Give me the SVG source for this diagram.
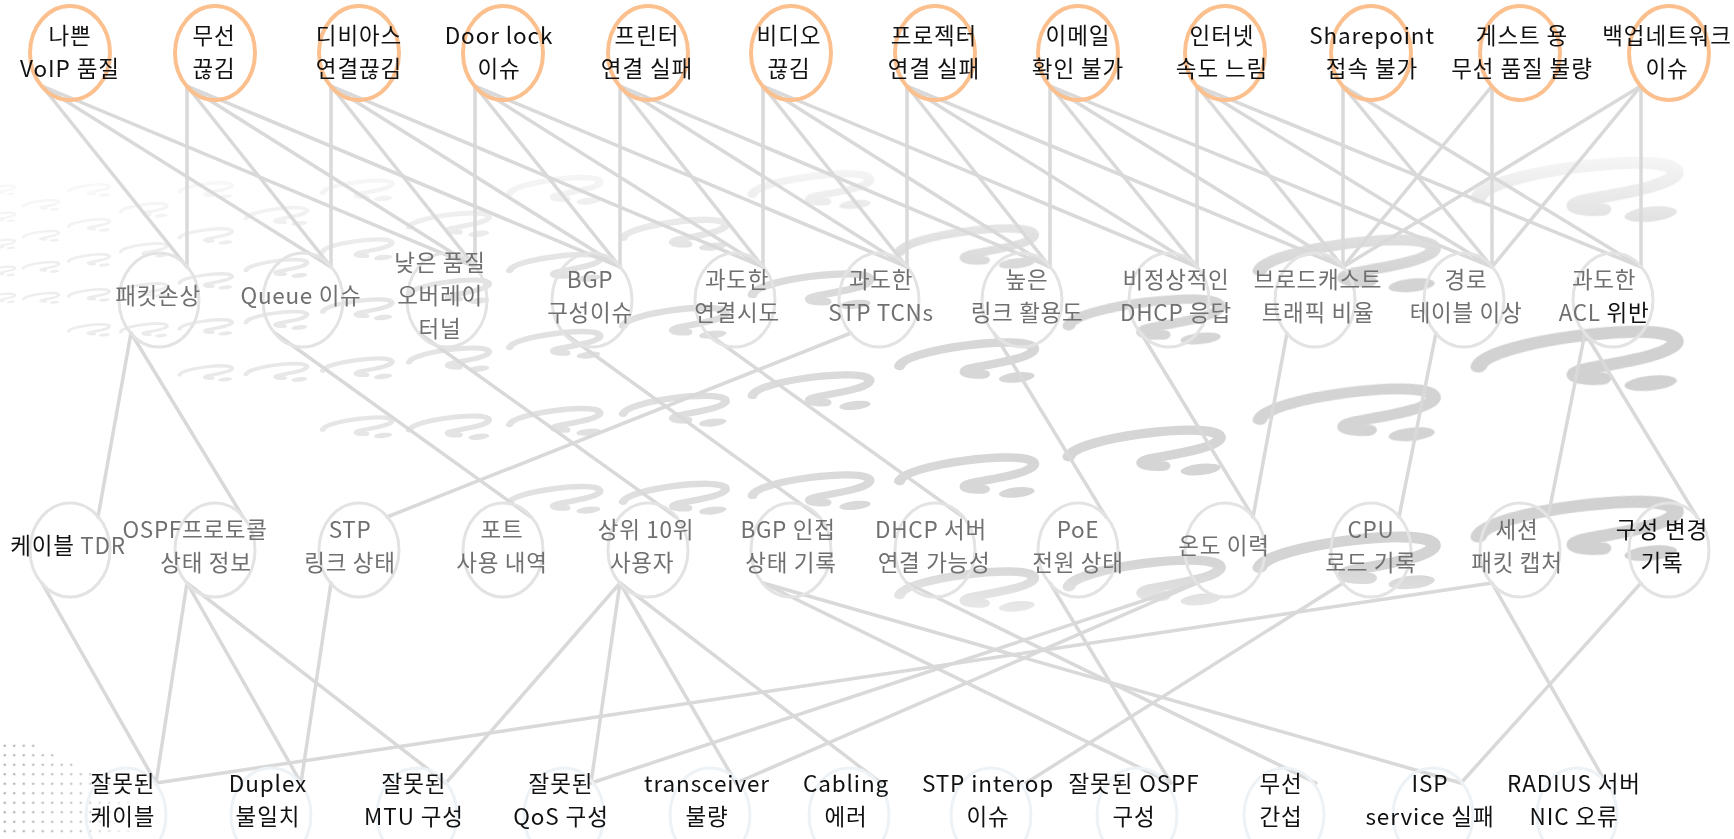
<svg xmlns="http://www.w3.org/2000/svg" width="1734" height="839" viewBox="0 0 1734 839">
<defs>
<style>
.t{font-family:"Noto Sans CJK KR","Noto Sans",sans-serif;font-size:22.5px;letter-spacing:0.9px;text-anchor:middle;fill:#111}
.g{fill:#707070;letter-spacing:0.7px}
.k{fill:#111}
.c1{fill:none;stroke:#FBC08E;stroke-width:4}
.c2{fill:none;stroke:#e3e3e3;stroke-width:3}
.c3{fill:none;stroke:#edf2f6;stroke-width:3}
.e line{stroke:#d9d9d9;stroke-width:3.5;stroke-linecap:round}
</style>
<g id="q" transform="scale(1,0.72)">
<path d="M-110 -5C-100 -40 90 -45 100 -15C108 8 30 12 5 15C-20 18 -10 30 20 32" fill="none" stroke="#d0d0d0" stroke-width="18" stroke-linecap="round"/>
<ellipse cx="70" cy="46" rx="28" ry="11" fill="#d0d0d0"/>
</g>
<linearGradient id="fh" x1="0" x2="1734" y1="0" y2="0" gradientUnits="userSpaceOnUse">
<stop offset="0" stop-color="#fff" stop-opacity="0.35"/><stop offset="0.55" stop-color="#fff" stop-opacity="0.85"/><stop offset="1" stop-color="#fff" stop-opacity="1"/>
</linearGradient>
<mask id="mh"><rect x="0" y="0" width="1734" height="839" fill="url(#fh)"/></mask>
<linearGradient id="fv" x1="0" x2="0" y1="0" y2="839" gradientUnits="userSpaceOnUse">
<stop offset="0.15" stop-color="#fff" stop-opacity="1"/><stop offset="0.33" stop-color="#fff" stop-opacity="0"/><stop offset="0.67" stop-color="#fff" stop-opacity="0"/><stop offset="0.8" stop-color="#fff" stop-opacity="1"/>
</linearGradient>
<pattern id="dots" width="9.5" height="9.5" patternUnits="userSpaceOnUse"><circle cx="4.75" cy="4.75" r="1.3" fill="#adadad"/></pattern>
<linearGradient id="fd" x1="0" x2="150" y1="0" y2="0" gradientUnits="userSpaceOnUse"><stop offset="0" stop-color="#fff"/><stop offset="0.5" stop-color="#fff" stop-opacity="0.7"/><stop offset="1" stop-color="#fff" stop-opacity="0"/></linearGradient>
<mask id="md"><polygon points="0,740 25,740 148,800 148,839 0,839" fill="url(#fd)"/></mask>
</defs>
<rect width="1734" height="839" fill="#fff"/>
<g id="background" mask="url(#mh)">
<use href="#q" transform="translate(0,190) rotate(-6) scale(0.15)"/>
<use href="#q" transform="translate(90,190) rotate(-6) scale(0.195)"/>
<use href="#q" transform="translate(207,190) rotate(-6) scale(0.25)"/>
<use href="#q" transform="translate(359,190) rotate(-6) scale(0.33)"/>
<use href="#q" transform="translate(557,190) rotate(-6) scale(0.43)"/>
<use href="#q" transform="translate(814,190) rotate(-6) scale(0.56)"/>
<use href="#q" transform="translate(1582,190) rotate(-6) scale(0.94)"/>
<use href="#q" transform="translate(42,205) rotate(-6) scale(0.17)"/>
<use href="#q" transform="translate(145,210) rotate(-6) scale(0.22)"/>
<use href="#q" transform="translate(278,216) rotate(-6) scale(0.29)"/>
<use href="#q" transform="translate(451,224) rotate(-6) scale(0.38)"/>
<use href="#q" transform="translate(677,234) rotate(-6) scale(0.49)"/>
<use href="#q" transform="translate(970,247) rotate(-6) scale(0.64)"/>
<use href="#q" transform="translate(1351,264) rotate(-6) scale(0.83)"/>
<use href="#q" transform="translate(0,217) rotate(-6) scale(0.15)"/>
<use href="#q" transform="translate(90,225) rotate(-6) scale(0.195)"/>
<use href="#q" transform="translate(207,236) rotate(-6) scale(0.25)"/>
<use href="#q" transform="translate(359,249) rotate(-6) scale(0.33)"/>
<use href="#q" transform="translate(557,267) rotate(-6) scale(0.43)"/>
<use href="#q" transform="translate(814,290) rotate(-6) scale(0.56)"/>
<use href="#q" transform="translate(1148,320) rotate(-6) scale(0.72)"/>
<use href="#q" transform="translate(1582,359) rotate(-6) scale(0.94)"/>
<use href="#q" transform="translate(42,236) rotate(-6) scale(0.17)"/>
<use href="#q" transform="translate(145,250) rotate(-6) scale(0.22)"/>
<use href="#q" transform="translate(278,268) rotate(-6) scale(0.29)"/>
<use href="#q" transform="translate(451,291) rotate(-6) scale(0.38)"/>
<use href="#q" transform="translate(677,322) rotate(-6) scale(0.49)"/>
<use href="#q" transform="translate(970,361) rotate(-6) scale(0.64)"/>
<use href="#q" transform="translate(1351,413) rotate(-6) scale(0.83)"/>
<use href="#q" transform="translate(0,244) rotate(-6) scale(0.15)"/>
<use href="#q" transform="translate(90,260) rotate(-6) scale(0.195)"/>
<use href="#q" transform="translate(207,281) rotate(-6) scale(0.25)"/>
<use href="#q" transform="translate(359,309) rotate(-6) scale(0.33)"/>
<use href="#q" transform="translate(557,344) rotate(-6) scale(0.43)"/>
<use href="#q" transform="translate(814,391) rotate(-6) scale(0.56)"/>
<use href="#q" transform="translate(1148,451) rotate(-6) scale(0.72)"/>
<use href="#q" transform="translate(1582,529) rotate(-6) scale(0.94)"/>
<use href="#q" transform="translate(42,267) rotate(-6) scale(0.17)"/>
<use href="#q" transform="translate(145,290) rotate(-6) scale(0.22)"/>
<use href="#q" transform="translate(278,320) rotate(-6) scale(0.29)"/>
<use href="#q" transform="translate(451,359) rotate(-6) scale(0.38)"/>
<use href="#q" transform="translate(677,410) rotate(-6) scale(0.49)"/>
<use href="#q" transform="translate(970,476) rotate(-6) scale(0.64)"/>
<use href="#q" transform="translate(1351,561) rotate(-6) scale(0.83)"/>
<use href="#q" transform="translate(0,271) rotate(-6) scale(0.15)"/>
<use href="#q" transform="translate(90,295) rotate(-6) scale(0.195)"/>
<use href="#q" transform="translate(207,327) rotate(-6) scale(0.25)"/>
<use href="#q" transform="translate(359,368) rotate(-6) scale(0.33)"/>
<use href="#q" transform="translate(557,421) rotate(-6) scale(0.43)"/>
<use href="#q" transform="translate(814,491) rotate(-6) scale(0.56)"/>
<use href="#q" transform="translate(1148,581) rotate(-6) scale(0.72)"/>
<use href="#q" transform="translate(42,298) rotate(-6) scale(0.17)"/>
<use href="#q" transform="translate(145,330) rotate(-6) scale(0.22)"/>
<use href="#q" transform="translate(278,372) rotate(-6) scale(0.29)"/>
<use href="#q" transform="translate(451,427) rotate(-6) scale(0.38)"/>
<use href="#q" transform="translate(677,498) rotate(-6) scale(0.49)"/>
<use href="#q" transform="translate(970,590) rotate(-6) scale(0.64)"/>
<use href="#q" transform="translate(0,298) rotate(-6) scale(0.15)"/>
<use href="#q" transform="translate(90,330) rotate(-6) scale(0.195)"/>
<use href="#q" transform="translate(207,373) rotate(-6) scale(0.25)"/>
<use href="#q" transform="translate(359,427) rotate(-6) scale(0.33)"/>
<use href="#q" transform="translate(557,499) rotate(-6) scale(0.43)"/>
</g>
<rect width="1734" height="839" fill="url(#fv)"/>
<rect x="0" y="740" width="150" height="99" fill="url(#dots)" mask="url(#md)"/>

<g id="connectors" class="e">
<line x1="42" y1="86" x2="187" y2="267"/><line x1="42" y1="86" x2="331" y2="267"/><line x1="42" y1="86" x2="475" y2="267"/>
<line x1="187" y1="86" x2="187" y2="267"/><line x1="187" y1="86" x2="331" y2="267"/><line x1="187" y1="86" x2="475" y2="267"/><line x1="187" y1="86" x2="620" y2="267"/>
<line x1="331" y1="86" x2="331" y2="267"/><line x1="331" y1="86" x2="475" y2="267"/><line x1="331" y1="86" x2="620" y2="267"/><line x1="331" y1="86" x2="763" y2="267"/>
<line x1="475" y1="86" x2="475" y2="267"/><line x1="475" y1="86" x2="620" y2="267"/><line x1="475" y1="86" x2="763" y2="267"/><line x1="475" y1="86" x2="907" y2="267"/>
<line x1="620" y1="86" x2="620" y2="267"/><line x1="620" y1="86" x2="763" y2="267"/><line x1="620" y1="86" x2="907" y2="267"/><line x1="620" y1="86" x2="1050" y2="267"/>
<line x1="763" y1="86" x2="763" y2="267"/><line x1="763" y1="86" x2="907" y2="267"/><line x1="763" y1="86" x2="1050" y2="267"/><line x1="763" y1="86" x2="1197" y2="267"/>
<line x1="907" y1="86" x2="907" y2="267"/><line x1="907" y1="86" x2="1050" y2="267"/><line x1="907" y1="86" x2="1197" y2="267"/><line x1="907" y1="86" x2="1343" y2="267"/>
<line x1="1050" y1="86" x2="1050" y2="267"/><line x1="1050" y1="86" x2="1197" y2="267"/><line x1="1050" y1="86" x2="1343" y2="267"/><line x1="1050" y1="86" x2="1492" y2="267"/>
<line x1="1197" y1="86" x2="1197" y2="267"/><line x1="1197" y1="86" x2="1343" y2="267"/><line x1="1197" y1="86" x2="1492" y2="267"/><line x1="1197" y1="86" x2="1641" y2="267"/>
<line x1="1343" y1="86" x2="1343" y2="267"/><line x1="1343" y1="86" x2="1492" y2="267"/><line x1="1343" y1="86" x2="1641" y2="267"/>
<line x1="1492" y1="86" x2="1492" y2="267"/><line x1="1492" y1="86" x2="1343" y2="267"/>
<line x1="1641" y1="86" x2="1641" y2="267"/><line x1="1641" y1="86" x2="1492" y2="267"/><line x1="1641" y1="86" x2="1343" y2="267"/>

<line x1="131" y1="333" x2="98" y2="517"/><line x1="131" y1="333" x2="243" y2="517"/>
<line x1="275" y1="333" x2="531" y2="517"/><line x1="419" y1="333" x2="676" y2="517"/>
<line x1="564" y1="333" x2="819" y2="517"/><line x1="707" y1="333" x2="963" y2="517"/>
<line x1="851" y1="333" x2="387" y2="517"/><line x1="994" y1="333" x2="1106" y2="517"/>
<line x1="1141" y1="333" x2="1253" y2="517"/><line x1="1287" y1="333" x2="1253" y2="517"/>
<line x1="1436" y1="333" x2="1399" y2="517"/><line x1="1585" y1="333" x2="1548" y2="517"/><line x1="1585" y1="333" x2="1697" y2="517"/>

<line x1="42" y1="583" x2="156" y2="783"/><line x1="187" y1="583" x2="156" y2="783"/><line x1="1492" y1="583" x2="156" y2="783"/>
<line x1="187" y1="583" x2="301" y2="783"/><line x1="331" y1="583" x2="301" y2="783"/>
<line x1="187" y1="583" x2="446" y2="783"/><line x1="620" y1="583" x2="446" y2="783"/>
<line x1="620" y1="583" x2="591" y2="783"/><line x1="1197" y1="583" x2="591" y2="783"/>
<line x1="620" y1="583" x2="736" y2="783"/><line x1="1197" y1="583" x2="736" y2="783"/>
<line x1="620" y1="583" x2="881" y2="783"/>
<line x1="1343" y1="583" x2="1026" y2="783"/>
<line x1="763" y1="583" x2="1171" y2="783"/><line x1="1050" y1="583" x2="1171" y2="783"/>
<line x1="907" y1="583" x2="1316" y2="783"/>
<line x1="763" y1="583" x2="1461" y2="783"/><line x1="1641" y1="583" x2="1461" y2="783"/>
<line x1="1492" y1="583" x2="1606" y2="783"/>
</g>

<g id="top-row">
<g id="n-voip"><ellipse class="c1" cx="70" cy="53" rx="40" ry="47"/><text class="t"><tspan x="70" y="44">나쁜</tspan><tspan x="70" y="77">VoIP 품질</tspan></text></g>
<g id="n-wifi-drop"><ellipse class="c1" cx="215" cy="53" rx="40" ry="47"/><text class="t"><tspan x="214" y="44">무선</tspan><tspan x="214" y="77">끊김</tspan></text></g>
<g id="n-device-drop"><ellipse class="c1" cx="359" cy="53" rx="40" ry="47"/><text class="t"><tspan x="359" y="44">디비아스</tspan><tspan x="359" y="77">연결끊김</tspan></text></g>
<g id="n-doorlock"><ellipse class="c1" cx="503" cy="53" rx="40" ry="47"/><text class="t"><tspan x="499" y="44">Door lock</tspan><tspan x="499" y="77">이슈</tspan></text></g>
<g id="n-printer"><ellipse class="c1" cx="648" cy="53" rx="40" ry="47"/><text class="t"><tspan x="647" y="44">프린터</tspan><tspan x="647" y="77">연결 실패</tspan></text></g>
<g id="n-video"><ellipse class="c1" cx="791" cy="53" rx="40" ry="47"/><text class="t"><tspan x="789" y="44">비디오</tspan><tspan x="789" y="77">끊김</tspan></text></g>
<g id="n-projector"><ellipse class="c1" cx="935" cy="53" rx="40" ry="47"/><text class="t"><tspan x="934" y="44">프로젝터</tspan><tspan x="934" y="77">연결 실패</tspan></text></g>
<g id="n-email"><ellipse class="c1" cx="1078" cy="53" rx="40" ry="47"/><text class="t"><tspan x="1078" y="44">이메일</tspan><tspan x="1078" y="77">확인 불가</tspan></text></g>
<g id="n-internet"><ellipse class="c1" cx="1225" cy="53" rx="40" ry="47"/><text class="t"><tspan x="1222" y="44">인터넷</tspan><tspan x="1222" y="77">속도 느림</tspan></text></g>
<g id="n-sharepoint"><ellipse class="c1" cx="1371" cy="53" rx="40" ry="47"/><text class="t"><tspan x="1372" y="44">Sharepoint</tspan><tspan x="1372" y="77">접속 불가</tspan></text></g>
<g id="n-guest"><ellipse class="c1" cx="1520" cy="53" rx="40" ry="47"/><text class="t"><tspan x="1522" y="44">게스트 용</tspan><tspan x="1522" y="77">무선 품질 불량</tspan></text></g>
<g id="n-backup"><ellipse class="c1" cx="1669" cy="53" rx="40" ry="47"/><text class="t"><tspan x="1667" y="44">백업네트워크</tspan><tspan x="1667" y="77">이슈</tspan></text></g>
</g>

<g id="mid-row-1">
<g id="n-packet"><ellipse class="c2" cx="159" cy="300" rx="40" ry="47"/><text class="t g" x="158" y="304">패킷손상</text></g>
<g id="n-queue"><ellipse class="c2" cx="303" cy="300" rx="40" ry="47"/><text class="t g" x="301" y="304">Queue 이슈</text></g>
<g id="n-overlay"><ellipse class="c2" cx="447" cy="300" rx="40" ry="47"/><text class="t g"><tspan x="440" y="271">낮은 품질</tspan><tspan x="440" y="304">오버레이</tspan><tspan x="440" y="337">터널</tspan></text></g>
<g id="n-bgp"><ellipse class="c2" cx="592" cy="300" rx="40" ry="47"/><text class="t g"><tspan x="590" y="288">BGP</tspan><tspan x="590" y="321">구성이슈</tspan></text></g>
<g id="n-conn"><ellipse class="c2" cx="735" cy="300" rx="40" ry="47"/><text class="t g"><tspan x="737" y="288">과도한</tspan><tspan x="737" y="321">연결시도</tspan></text></g>
<g id="n-tcn"><ellipse class="c2" cx="879" cy="300" rx="40" ry="47"/><text class="t g"><tspan x="881" y="288">과도한</tspan><tspan x="881" y="321">STP TCNs</tspan></text></g>
<g id="n-link"><ellipse class="c2" cx="1022" cy="300" rx="40" ry="47"/><text class="t g"><tspan x="1027" y="288">높은</tspan><tspan x="1027" y="321">링크 활용도</tspan></text></g>
<g id="n-dhcp"><ellipse class="c2" cx="1169" cy="300" rx="40" ry="47"/><text class="t g"><tspan x="1176" y="288">비정상적인</tspan><tspan x="1176" y="321">DHCP 응답</tspan></text></g>
<g id="n-bcast"><ellipse class="c2" cx="1315" cy="300" rx="40" ry="47"/><text class="t g"><tspan x="1318" y="288">브로드캐스트</tspan><tspan x="1318" y="321">트래픽 비율</tspan></text></g>
<g id="n-route"><ellipse class="c2" cx="1464" cy="300" rx="40" ry="47"/><text class="t g"><tspan x="1466" y="288">경로</tspan><tspan x="1466" y="321">테이블 이상</tspan></text></g>
<g id="n-acl"><ellipse class="c2" cx="1613" cy="300" rx="40" ry="47"/><text class="t g"><tspan x="1604" y="288">과도한</tspan><tspan x="1604" y="321">ACL <tspan class="k">위반</tspan></tspan></text></g>
</g>

<g id="mid-row-2">
<g id="n-tdr"><ellipse class="c2" cx="70" cy="550" rx="40" ry="47"/><text class="t g" x="68" y="554"><tspan class="k">케이블</tspan> TDR</text></g>
<g id="n-ospf"><ellipse class="c2" cx="215" cy="550" rx="40" ry="47"/><text class="t g"><tspan x="195" y="538">OSPF프로토콜</tspan><tspan x="206" y="571">상태 정보</tspan></text></g>
<g id="n-stp"><ellipse class="c2" cx="359" cy="550" rx="40" ry="47"/><text class="t g"><tspan x="350" y="538">STP</tspan><tspan x="350" y="571">링크 상태</tspan></text></g>
<g id="n-port"><ellipse class="c2" cx="503" cy="550" rx="40" ry="47"/><text class="t g"><tspan x="502" y="538">포트</tspan><tspan x="502" y="571">사용 내역</tspan></text></g>
<g id="n-top10"><ellipse class="c2" cx="648" cy="550" rx="40" ry="47"/><text class="t g"><tspan x="646" y="538">상위 10위</tspan><tspan x="642" y="571">사용자</tspan></text></g>
<g id="n-bgpadj"><ellipse class="c2" cx="791" cy="550" rx="40" ry="47"/><text class="t g"><tspan x="788" y="538">BGP 인접</tspan><tspan x="791" y="571">상태 기록</tspan></text></g>
<g id="n-dhcpsrv"><ellipse class="c2" cx="935" cy="550" rx="40" ry="47"/><text class="t g"><tspan x="931" y="538">DHCP 서버</tspan><tspan x="934" y="571">연결 가능성</tspan></text></g>
<g id="n-poe"><ellipse class="c2" cx="1078" cy="550" rx="40" ry="47"/><text class="t g"><tspan x="1078" y="538">PoE</tspan><tspan x="1078" y="571">전원 상태</tspan></text></g>
<g id="n-temp"><ellipse class="c2" cx="1225" cy="550" rx="40" ry="47"/><text class="t g" x="1224" y="554">온도 이력</text></g>
<g id="n-cpu"><ellipse class="c2" cx="1371" cy="550" rx="40" ry="47"/><text class="t g"><tspan x="1371" y="538">CPU</tspan><tspan x="1371" y="571">로드 기록</tspan></text></g>
<g id="n-capture"><ellipse class="c2" cx="1520" cy="550" rx="40" ry="47"/><text class="t g"><tspan x="1517" y="538">세션</tspan><tspan x="1517" y="571">패킷 캡처</tspan></text></g>
<g id="n-config"><ellipse class="c2" cx="1669" cy="550" rx="40" ry="47"/><text class="t k"><tspan x="1662" y="538">구성 변경</tspan><tspan x="1662" y="571">기록</tspan></text></g>
</g>

<g id="bottom-row">
<g id="n-badcable"><ellipse class="c3" cx="126" cy="815" rx="40" ry="47"/><text class="t"><tspan x="123" y="792">잘못된</tspan><tspan x="123" y="825">케이블</tspan></text></g>
<g id="n-duplex"><ellipse class="c3" cx="271" cy="815" rx="40" ry="47"/><text class="t"><tspan x="268" y="792">Duplex</tspan><tspan x="268" y="825">불일치</tspan></text></g>
<g id="n-mtu"><ellipse class="c3" cx="417" cy="815" rx="40" ry="47"/><text class="t"><tspan x="414" y="792">잘못된</tspan><tspan x="414" y="825">MTU 구성</tspan></text></g>
<g id="n-qos"><ellipse class="c3" cx="564" cy="815" rx="40" ry="47"/><text class="t"><tspan x="561" y="792">잘못된</tspan><tspan x="561" y="825">QoS 구성</tspan></text></g>
<g id="n-xcvr"><ellipse class="c3" cx="710" cy="815" rx="40" ry="47"/><text class="t"><tspan x="707" y="792">transceiver</tspan><tspan x="707" y="825">불량</tspan></text></g>
<g id="n-cabling"><ellipse class="c3" cx="849" cy="815" rx="40" ry="47"/><text class="t"><tspan x="846" y="792">Cabling</tspan><tspan x="846" y="825">에러</tspan></text></g>
<g id="n-stpinterop"><ellipse class="c3" cx="991" cy="815" rx="40" ry="47"/><text class="t"><tspan x="988" y="792">STP interop</tspan><tspan x="988" y="825">이슈</tspan></text></g>
<g id="n-badospf"><ellipse class="c3" cx="1137" cy="815" rx="40" ry="47"/><text class="t"><tspan x="1134" y="792">잘못된 OSPF</tspan><tspan x="1134" y="825">구성</tspan></text></g>
<g id="n-interf"><ellipse class="c3" cx="1284" cy="815" rx="40" ry="47"/><text class="t"><tspan x="1281" y="792">무선</tspan><tspan x="1281" y="825">간섭</tspan></text></g>
<g id="n-isp"><ellipse class="c3" cx="1433" cy="815" rx="40" ry="47"/><text class="t"><tspan x="1430" y="792">ISP</tspan><tspan x="1430" y="825">service 실패</tspan></text></g>
<g id="n-radius"><ellipse class="c3" cx="1577" cy="815" rx="40" ry="47"/><text class="t"><tspan x="1574" y="792">RADIUS 서버</tspan><tspan x="1574" y="825">NIC 오류</tspan></text></g>
</g>
</svg>
